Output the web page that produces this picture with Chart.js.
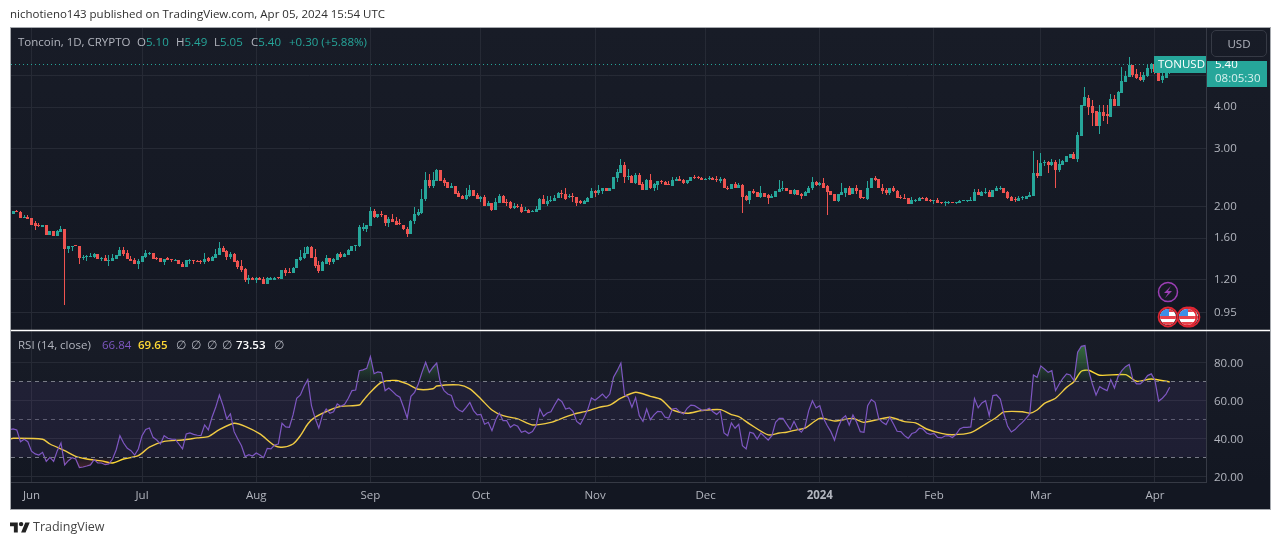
<!DOCTYPE html>
<html>
<head>
<meta charset="utf-8">
<title>TONUSD</title>
<script src="https://cdn.jsdelivr.net/npm/chart.js@4"></script>
<style>
    html, body { margin: 0; padding: 0; background: #fff; overflow: hidden; }
    body { width: 1281px; height: 545px; position: relative; font-family: "Open Sans", sans-serif; }
    canvas { position: absolute; left: 0; top: 0; }
    .txt { position: absolute; white-space: pre; font-size: 11.5px; line-height: 14px; color: #b2b5be; }
    .up { color: #26a69a; }
    #head { left: 10px; top: 7px; color: #2e2e2e; font-size: 11.5px; }
    #usd { left: 1211px; top: 30px; width: 54px; height: 25px; line-height: 25px; text-align: center;
           border: 1px solid #363a45; border-radius: 5px; }
    #logo { position: absolute; left: 10px; top: 520px; }
    #brand { left: 33px; top: 520px; color: #444; font-size: 12.5px; }
</style>
</head>
<body>
<canvas id="tonChart" width="1281" height="545"></canvas>
<div class="txt" id="head">nichotieno143 published on TradingView.com, Apr 05, 2024 15:54 UTC</div>
<div class="txt" style="left:18px;top:35px">Toncoin, 1D, CRYPTO</div>
<div class="txt" style="left:137px;top:35px">O<span class="up">5.10</span></div>
<div class="txt" style="left:176px;top:35px">H<span class="up">5.49</span></div>
<div class="txt" style="left:214px;top:35px">L<span class="up">5.05</span></div>
<div class="txt" style="left:251px;top:35px">C<span class="up">5.40</span></div>
<div class="txt up" style="left:289px;top:35px">+0.30 (+5.88%)</div>
<div class="txt" style="left:18px;top:338px">RSI (14, close)</div>
<div class="txt" style="left:102px;top:338px;color:#7e57c2">66.84</div>
<div class="txt" style="left:138px;top:338px;color:#fdd835;font-weight:600">69.65</div>
<div class="txt" style="left:176px;top:338px">∅</div>
<div class="txt" style="left:191px;top:338px">∅</div>
<div class="txt" style="left:207px;top:338px">∅</div>
<div class="txt" style="left:222px;top:338px">∅</div>
<div class="txt" style="left:236px;top:338px;color:#fff;font-weight:600">73.53</div>
<div class="txt" style="left:274px;top:338px">∅</div>
<div class="txt" id="usd">USD</div>
<svg id="logo" width="20" height="16" viewBox="0 0 36 28"><path fill="#222" d="M14 22H7V11H0V4h14v18zM28 22h-8l7.5-18h8L28 22z"/><circle fill="#222" cx="20" cy="7" r="4"/></svg>
<div class="txt" id="brand">TradingView</div>

<script>
// candles, one per day, first one is 27 May 2023
const opens = [
    1.90,1.93,1.92,1.84,1.86,1.84,1.78,1.755,1.735,1.75,
    1.64,1.68,1.62,1.67,1.71,1.48,1.50,1.52,1.51,1.39,
    1.40,1.40,1.40,1.43,1.38,1.39,1.36,1.36,1.38,1.41,
    1.47,1.44,1.38,1.37,1.34,1.35,1.40,1.43,1.44,1.39,
    1.39,1.35,1.39,1.375,1.36,1.37,1.34,1.31,1.36,1.37,
    1.36,1.36,1.35,1.39,1.36,1.39,1.42,1.49,1.46,1.40,
    1.43,1.36,1.32,1.29,1.19,1.21,1.19,1.21,1.20,1.165,
    1.19,1.19,1.215,1.20,1.28,1.26,1.25,1.30,1.37,1.39,
    1.43,1.50,1.40,1.33,1.27,1.34,1.39,1.35,1.37,1.43,
    1.40,1.42,1.46,1.51,1.51,1.71,1.71,1.74,1.94,1.85,
    1.89,1.88,1.78,1.83,1.80,1.78,1.76,1.71,1.645,1.80,
    1.88,1.905,2.10,2.40,2.30,2.38,2.57,2.40,2.37,2.28,
    2.30,2.19,2.15,2.10,2.15,2.24,2.16,2.10,2.13,2.00,
    2.04,1.945,2.04,2.15,2.06,2.06,1.97,2.00,1.99,1.93,
    1.945,1.92,1.92,1.945,2.10,2.03,2.07,2.07,2.12,2.19,
    2.18,2.13,2.15,2.13,2.07,2.03,2.06,2.12,2.22,2.19,
    2.22,2.27,2.22,2.25,2.43,2.52,2.67,2.45,2.47,2.35,
    2.49,2.33,2.24,2.40,2.27,2.32,2.38,2.37,2.33,2.30,
    2.39,2.42,2.40,2.35,2.38,2.45,2.45,2.43,2.40,2.42,
    2.43,2.42,2.38,2.42,2.28,2.25,2.33,2.28,2.32,2.15,
    2.09,2.22,2.21,2.13,2.19,2.16,2.12,2.13,2.21,2.25,
    2.27,2.24,2.18,2.24,2.18,2.15,2.19,2.27,2.37,2.32,
    2.35,2.30,2.22,2.18,2.07,2.16,2.19,2.28,2.18,2.27,
    2.24,2.13,2.10,2.27,2.43,2.42,2.28,2.24,2.19,2.27,
    2.22,2.13,2.12,2.12,2.03,2.07,2.07,2.12,2.12,2.09,
    2.08,2.09,2.06,2.05,2.05,2.06,2.04,2.04,2.07,2.07,
    2.07,2.07,2.21,2.15,2.19,2.21,2.13,2.22,2.25,2.27,
    2.21,2.13,2.10,2.07,2.12,2.10,2.13,2.15,2.52,2.47,
    2.70,2.72,2.67,2.72,2.57,2.67,2.72,2.80,2.88,2.79,
    3.27,4.03,4.28,4.03,3.89,3.50,3.86,3.81,3.73,4.23,
    4.03,4.42,4.77,4.94,5.37,5.05,4.94,4.84,4.98,5.22,
    5.40,5.19,4.84,4.91,5.10
]
const highs = [
    1.94,1.95,1.93,1.88,1.88,1.84,1.80,1.78,1.76,1.76,
    1.68,1.68,1.69,1.74,1.71,1.52,1.52,1.53,1.51,1.42,
    1.42,1.44,1.44,1.43,1.40,1.42,1.42,1.43,1.42,1.50,
    1.50,1.47,1.41,1.39,1.38,1.41,1.47,1.45,1.44,1.40,
    1.395,1.385,1.40,1.375,1.385,1.375,1.35,1.37,1.38,1.37,
    1.37,1.375,1.44,1.40,1.41,1.48,1.56,1.52,1.47,1.45,
    1.44,1.37,1.37,1.30,1.24,1.22,1.22,1.22,1.22,1.22,
    1.22,1.22,1.215,1.28,1.30,1.30,1.31,1.38,1.47,1.50,
    1.51,1.52,1.48,1.36,1.36,1.42,1.39,1.39,1.44,1.45,
    1.44,1.48,1.52,1.52,1.76,1.78,1.76,1.99,1.96,1.90,
    1.94,1.88,1.85,1.89,1.85,1.83,1.76,1.73,1.82,1.99,
    1.96,2.25,2.54,2.50,2.54,2.59,2.57,2.43,2.37,2.35,
    2.30,2.22,2.16,2.28,2.32,2.24,2.19,2.15,2.16,2.07,
    2.04,2.12,2.18,2.16,2.10,2.07,2.04,2.03,2.03,1.99,
    1.96,1.945,2.01,2.12,2.16,2.15,2.15,2.16,2.21,2.24,
    2.27,2.18,2.19,2.13,2.09,2.09,2.13,2.27,2.24,2.32,
    2.27,2.27,2.28,2.45,2.59,2.78,2.72,2.59,2.49,2.52,
    2.52,2.37,2.42,2.50,2.35,2.38,2.40,2.38,2.38,2.45,
    2.45,2.47,2.42,2.40,2.45,2.49,2.47,2.45,2.43,2.47,
    2.45,2.47,2.45,2.43,2.30,2.33,2.37,2.35,2.33,2.16,
    2.22,2.25,2.21,2.30,2.19,2.18,2.18,2.22,2.40,2.38,
    2.27,2.24,2.25,2.24,2.19,2.22,2.30,2.45,2.38,2.37,
    2.43,2.32,2.22,2.18,2.18,2.35,2.28,2.30,2.27,2.32,
    2.24,2.13,2.38,2.43,2.47,2.42,2.33,2.27,2.27,2.30,
    2.24,2.16,2.18,2.12,2.13,2.10,2.13,2.13,2.13,2.10,
    2.09,2.12,2.06,2.07,2.07,2.06,2.06,2.09,2.09,2.09,
    2.13,2.25,2.25,2.22,2.27,2.24,2.24,2.30,2.30,2.28,
    2.22,2.15,2.13,2.15,2.15,2.15,2.21,2.94,2.76,2.90,
    2.76,2.74,2.78,2.76,2.78,2.76,2.84,2.89,2.92,3.36,
    4.06,4.61,4.36,4.20,3.90,4.06,4.06,4.06,4.39,4.36,
    4.48,5.30,5.15,5.68,5.37,5.22,5.12,5.12,5.37,5.45,
    5.49,5.28,5.19,5.25,5.49
]
const lows = [
    1.89,1.92,1.84,1.84,1.83,1.76,1.70,1.73,1.73,1.64,
    1.64,1.62,1.62,1.67,1.00,1.44,1.46,1.51,1.34,1.37,
    1.36,1.40,1.395,1.38,1.36,1.36,1.32,1.36,1.38,1.41,
    1.41,1.38,1.36,1.34,1.29,1.35,1.39,1.42,1.38,1.37,
    1.35,1.33,1.37,1.35,1.36,1.335,1.31,1.31,1.34,1.34,
    1.35,1.34,1.335,1.35,1.36,1.39,1.42,1.45,1.37,1.38,
    1.35,1.29,1.26,1.18,1.16,1.19,1.17,1.19,1.165,1.165,
    1.19,1.19,1.20,1.20,1.23,1.25,1.25,1.30,1.36,1.38,
    1.43,1.39,1.30,1.25,1.27,1.34,1.33,1.34,1.37,1.39,
    1.40,1.42,1.46,1.46,1.50,1.68,1.67,1.74,1.84,1.84,
    1.86,1.74,1.73,1.79,1.76,1.76,1.70,1.61,1.645,1.77,
    1.87,1.90,2.08,2.27,2.27,2.38,2.38,2.30,2.27,2.27,
    2.18,2.13,2.10,2.09,2.13,2.15,2.10,2.06,2.01,2.00,
    1.93,1.945,2.04,2.04,2.01,1.96,1.96,1.97,1.905,1.93,
    1.905,1.92,1.92,1.945,2.03,2.00,2.06,2.07,2.12,2.12,
    2.09,2.12,2.06,2.01,2.03,2.03,2.06,2.12,2.13,2.16,
    2.18,2.22,2.22,2.25,2.37,2.52,2.35,2.40,2.35,2.33,
    2.32,2.24,2.24,2.25,2.22,2.24,2.33,2.32,2.32,2.30,
    2.38,2.38,2.33,2.33,2.38,2.42,2.42,2.40,2.40,2.40,
    2.40,2.37,2.35,2.27,2.24,2.25,2.28,2.28,1.905,2.07,
    2.03,2.18,2.13,2.12,2.13,2.03,2.12,2.13,2.21,2.22,
    2.22,2.18,2.16,2.16,2.10,2.15,2.19,2.24,2.30,2.30,
    2.28,1.88,2.16,2.07,2.06,2.16,2.13,2.16,2.18,2.18,
    2.10,2.10,2.09,2.27,2.38,2.27,2.18,2.16,2.16,2.21,
    2.12,2.10,2.10,2.03,2.03,2.06,2.07,2.10,2.07,2.06,
    2.03,2.04,2.03,2.01,2.03,2.05,2.03,2.04,2.07,2.06,
    2.07,2.07,2.16,2.15,2.18,2.13,2.13,2.22,2.24,2.19,
    2.10,2.07,2.06,2.07,2.09,2.10,2.13,2.15,2.43,2.47,
    2.65,2.52,2.65,2.28,2.54,2.67,2.72,2.80,2.79,2.72,
    3.27,4.03,3.79,3.50,3.50,3.31,3.62,3.55,3.73,4.03,
    4.03,4.42,4.77,4.94,4.94,4.87,4.80,4.77,4.94,5.08,
    5.06,4.81,4.75,4.91,5.05
]
const closes = [
    1.93,1.92,1.84,1.86,1.83,1.76,1.745,1.745,1.755,1.64,
    1.68,1.62,1.68,1.71,1.48,1.51,1.52,1.51,1.39,1.40,
    1.41,1.41,1.43,1.385,1.39,1.36,1.37,1.39,1.42,1.47,
    1.43,1.38,1.36,1.34,1.36,1.41,1.44,1.44,1.38,1.38,
    1.35,1.385,1.375,1.37,1.37,1.34,1.31,1.37,1.37,1.365,
    1.355,1.355,1.385,1.36,1.40,1.43,1.49,1.45,1.40,1.43,
    1.35,1.31,1.28,1.19,1.21,1.19,1.21,1.19,1.165,1.21,
    1.21,1.215,1.21,1.28,1.25,1.25,1.30,1.38,1.40,1.44,
    1.50,1.39,1.32,1.27,1.35,1.39,1.35,1.38,1.43,1.40,
    1.43,1.47,1.51,1.515,1.73,1.73,1.75,1.94,1.85,1.89,
    1.88,1.78,1.83,1.79,1.76,1.765,1.71,1.645,1.81,1.89,
    1.92,2.10,2.40,2.30,2.40,2.57,2.38,2.35,2.27,2.30,
    2.18,2.13,2.10,2.16,2.24,2.15,2.10,2.13,2.01,2.04,
    1.945,2.06,2.15,2.04,2.04,1.97,2.00,1.99,1.92,1.945,
    1.905,1.93,1.96,2.10,2.03,2.07,2.09,2.12,2.19,2.18,
    2.10,2.15,2.13,2.04,2.04,2.07,2.12,2.22,2.19,2.24,
    2.27,2.22,2.27,2.45,2.54,2.67,2.45,2.47,2.35,2.49,
    2.32,2.24,2.40,2.27,2.33,2.38,2.37,2.32,2.325,2.40,
    2.42,2.38,2.35,2.40,2.45,2.43,2.43,2.40,2.42,2.43,
    2.40,2.40,2.42,2.27,2.25,2.33,2.28,2.32,2.13,2.09,
    2.22,2.19,2.13,2.19,2.13,2.12,2.15,2.22,2.25,2.27,
    2.22,2.18,2.24,2.16,2.15,2.21,2.28,2.37,2.32,2.35,
    2.28,2.21,2.16,2.07,2.18,2.21,2.28,2.16,2.27,2.22,
    2.12,2.12,2.28,2.43,2.40,2.27,2.22,2.19,2.27,2.22,
    2.12,2.12,2.11,2.03,2.09,2.09,2.12,2.10,2.07,2.07,
    2.09,2.04,2.04,2.06,2.06,2.05,2.06,2.07,2.09,2.09,
    2.09,2.21,2.16,2.21,2.21,2.13,2.24,2.27,2.27,2.19,
    2.12,2.07,2.09,2.12,2.13,2.15,2.16,2.52,2.47,2.70,
    2.72,2.67,2.72,2.57,2.68,2.74,2.84,2.89,2.79,3.29,
    4.06,4.30,4.00,3.84,3.50,3.86,3.76,3.76,4.23,4.03,
    4.45,4.80,4.98,5.37,5.01,4.91,4.84,5.01,5.26,5.41,
    5.13,4.81,4.96,5.10,5.40
]

const rsiValues = [
    44.9,44.4,38.2,39.5,38.2,33.2,31.8,31.2,32.6,27.9,
    30.0,27.9,33.5,37.5,26.0,28.2,29.8,29.1,24.6,24.9,
    25.4,26.0,28.8,27.0,27.0,26.1,26.5,29.1,34.0,41.4,
    37.5,34.7,33.5,31.2,34.4,41.4,44.6,45.4,40.5,39.1,
    37.0,41.4,40.0,39.6,39.5,37.0,34.4,42.3,42.8,42.1,
    41.6,41.4,47.0,44.4,51.1,56.3,62.8,57.2,50.2,52.8,
    43.5,39.6,36.1,30.4,31.4,30.7,32.3,31.2,29.8,34.7,
    34.4,36.5,37.0,47.9,46.0,45.8,52.3,61.1,62.8,67.4,
    70.9,57.2,50.5,45.4,52.3,55.4,53.2,54.0,58.1,56.8,
    57.9,61.1,65.1,65.4,75.6,76.0,76.8,83.0,74.0,74.9,
    74.6,65.1,66.5,64.7,62.8,61.6,56.3,50.7,62.1,64.2,
    68.6,74.7,80.0,74.7,77.4,79.6,69.1,65.1,63.3,62.5,
    56.8,54.9,54.0,56.3,58.9,54.6,52.3,52.6,47.4,48.4,
    44.0,49.6,53.3,49.3,49.3,45.8,47.2,46.3,43.2,43.9,
    42.5,43.5,46.7,55.4,51.6,53.3,54.0,57.5,60.7,59.3,
    55.4,56.0,54.2,48.9,47.4,50.9,55.1,61.2,60.0,61.6,
    63.3,61.1,63.3,72.1,75.6,79.6,62.8,61.6,56.3,61.4,
    51.9,48.9,55.4,49.8,52.3,54.2,54.0,51.1,50.7,55.4,
    55.8,53.9,52.8,55.8,57.5,57.2,56.0,54.7,54.9,55.8,
    54.0,52.6,54.4,42.8,41.4,48.1,45.3,47.4,36.1,34.4,
    43.2,42.6,39.6,42.8,40.9,39.1,41.4,48.4,50.5,50.5,
    47.5,44.6,48.9,44.9,43.2,46.1,54.6,59.8,56.0,57.2,
    50.5,46.7,43.5,39.0,45.8,50.2,51.9,47.0,52.3,48.4,
    43.5,43.2,57.2,60.4,58.9,50.5,48.4,47.2,51.1,47.5,
    43.7,43.5,41.4,40.0,42.5,43.2,45.3,44.9,42.8,42.1,
    42.6,40.5,40.2,41.2,41.4,40.4,42.1,44.9,45.8,45.8,
    46.0,60.9,56.0,58.6,59.8,51.9,62.5,62.8,60.7,52.8,
    46.3,43.3,44.6,46.7,48.4,50.5,52.8,73.3,72.1,78.1,
    76.5,74.7,75.6,65.1,68.6,71.6,73.9,73.3,70.4,85.3,
    88.4,88.8,75.6,68.6,62.8,67.2,66.0,65.1,70.9,66.5,
    72.6,75.6,77.7,78.9,70.9,68.6,68.6,70.4,73.0,73.9,
    70.4,59.6,61.1,63.3,66.84
]
// RSI and its average run on past the first candle, off the left edge
const rsiBeforeStart = 44.5
const rsiMaBeforeStart = 39.6

// yellow RSI average, read at the days it bends
const rsiMaDays = [0,8,10,14,17,20,24,27,30,34,37,41,46,50,53,56,60,63,67,71,73,76,78,80,82,86,89,94,95,97,100,104,107,110,114,115,121,124,127,130,133,137,141,146,149,152,156,159,162,165,169,173,176,179,183,187,192,195,197,200,205,208,210,213,215,219,223,228,231,238,242,245,248,252,255,260,264,267,269,274,276,278,280,283,286,288,290,292,295,302,305,309,314]
const rsiMaValues = [40.0,39.5,37.0,33.5,30.5,29.1,28.1,27.0,29.1,30.9,35.3,38.4,39.1,40.2,40.9,44.6,47.9,46.3,42.3,36.1,35.3,37.0,41.4,47.5,51.1,54.9,56.8,57.5,59.8,64.2,69.5,70.4,68.6,65.8,66.1,67.5,68.1,66.0,60.7,54.9,51.9,50.2,47.0,48.4,50.5,52.6,54.4,56.3,57.5,61.1,64.2,62.1,60.4,54.9,53.2,54.6,55.1,52.5,51.4,47.5,41.8,42.8,43.2,44.6,45.3,50.5,49.1,50.5,48.4,51.1,48.8,48.1,44.9,42.6,41.9,43.0,47.5,51.1,53.9,54.0,53.2,54.9,58.4,61.1,66.8,69.8,75.3,75.8,73.2,73.5,70.0,71.2,69.65]

const priceTicks = [0.95, 1.2, 1.6, 2, 3, 4, 5]
const rsiTicks = [20, 40, 60, 80]
const rsiLevels = [70, 50, 30]
const monthDays = [5, 35, 66, 97, 127, 158, 188, 219, 250, 279, 310]
const monthLabels = ['Jun', 'Jul', 'Aug', 'Sep', 'Oct', 'Nov', 'Dec', '2024', 'Feb', 'Mar', 'Apr']
const lastPrice = 5.40

const firstDay = -0.57
const lastDay = 323.85
const fontName = '"Open Sans", sans-serif'
const upColor = '#26a69a'
const downColor = '#ef5350'
const gridColor = '#262a35'
const axisColor = '#363a45'
const textColor = '#b2b5be'

const days = opens.map((o, i) => i)
const candleColors = closes.map((c, i) => c >= opens[i] ? upColor : downColor)
const rsiPoints = [{ x: -1, y: rsiBeforeStart }].concat(days.map(i => ({ x: i, y: rsiValues[i] })))
const rsiMaPoints = [{ x: -1, y: rsiMaBeforeStart }].concat(rsiMaDays.map((d, i) => ({ x: d, y: rsiMaValues[i] })))

const ctxMain = document.getElementById('tonChart').getContext('2d')

const overboughtFill = ctxMain.createLinearGradient(0, 345, 0, 382)
overboughtFill.addColorStop(0, 'rgba(76,175,80,0.55)')
overboughtFill.addColorStop(1, 'rgba(76,175,80,0.03)')
const oversoldFill = ctxMain.createLinearGradient(0, 458, 0, 480)
oversoldFill.addColorStop(0, 'rgba(255,82,82,0.03)')
oversoldFill.addColorStop(1, 'rgba(255,82,82,0.4)')

// dark pane backgrounds and the outer frame
const panePlugin = {
    id: 'panes',
    beforeDraw(chart) {
        const c = chart.ctx
        const left = chart.chartArea.left
        const right = chart.scales.price.right
        const paint = (top, bottom) => {
            const g = c.createLinearGradient(0, top, 0, bottom)
            g.addColorStop(0, '#181c27')
            g.addColorStop(1, '#131722')
            c.fillStyle = g
            c.fillRect(left, top, right - left, bottom - top)
        }
        paint(chart.scales.price.top, chart.scales.price.bottom)
        paint(chart.scales.rsi.top, chart.scales.rsi.bottom)
        c.fillStyle = '#131722'
        c.fillRect(left, chart.chartArea.bottom, right - left, chart.scales.x.height)
    },
    afterDraw(chart) {
        const c = chart.ctx
        const left = chart.chartArea.left
        const right = chart.scales.price.right
        c.save()
        c.strokeStyle = '#ffffff'
        c.lineWidth = 1.5
        c.beginPath()
        c.moveTo(left, chart.scales.rsi.top + 0.5)
        c.lineTo(right, chart.scales.rsi.top + 0.5)
        c.stroke()
        c.strokeStyle = '#a6a9ae'
        c.lineWidth = 1
        c.strokeRect(left - 0.5, chart.chartArea.top - 0.5, right - left + 1, chart.chartArea.bottom + chart.scales.x.height - chart.chartArea.top + 1)
        c.restore()
    }
}

// keep candles and level lines on whole pixels like the original
const snapPlugin = {
    id: 'snap',
    afterDatasetsUpdate(chart) {
        chart.data.datasets.forEach((ds, n) => {
            const meta = chart.getDatasetMeta(n)
            if (ds.flat) {
                meta.data.forEach(pt => { pt.y = Math.floor(pt.y) + 0.5 })
            }
            if (ds.type !== 'bar') return
            meta.data.forEach(el => {
                el.x = Math.floor(el.x) + 0.5
                el.y = Math.round(el.y)
                el.base = Math.round(el.base)
                if (el.base === el.y) el.base = el.y + 1
            })
        })
    }
}

const drawFlag = (c, x, y) => {
    c.save()
    c.beginPath()
    c.arc(x, y, 8, 0, Math.PI * 2)
    c.fillStyle = '#ffffff'
    c.fill()
    c.clip()
    c.fillStyle = '#e8424c'
    c.fillRect(x - 8, y - 1, 16, 3)
    c.fillRect(x - 8, y + 5, 16, 3)
    c.fillRect(x, y - 8, 8, 3)
    c.fillStyle = '#3d8fe8'
    c.fillRect(x - 8, y - 8, 9, 7)
    c.restore()
    c.beginPath()
    c.arc(x, y, 9.5, 0, Math.PI * 2)
    c.strokeStyle = '#e02633'
    c.lineWidth = 1.8
    c.stroke()
}

// price tags and event marks on top of the chart
const tagPlugin = {
    id: 'tags',
    afterDraw(chart) {
        const c = chart.ctx
        c.save()

        c.fillStyle = upColor
        c.fillRect(1154, 56, 52, 17)
        c.fillStyle = '#ffffff'
        c.font = '11.5px ' + fontName
        c.textAlign = 'left'
        c.textBaseline = 'middle'
        c.fillText('TONUSD', 1158, 65)

        c.fillStyle = upColor
        c.fillRect(1207, 61, 60, 26)
        c.save()
        c.beginPath()
        c.rect(1207, 61, 60, 26)
        c.clip()
        c.fillStyle = '#ffffff'
        c.fillText('5.40', 1215, 65)
        c.restore()
        c.fillStyle = '#d8f0ee'
        c.fillText('08:05:30', 1215, 79)

        // lightning mark
        c.beginPath()
        c.arc(1168, 292, 9.5, 0, Math.PI * 2)
        c.fillStyle = '#161a25'
        c.fill()
        c.strokeStyle = '#9c3fb5'
        c.lineWidth = 1.5
        c.stroke()
        c.fillStyle = '#9c3fb5'
        c.beginPath()
        c.moveTo(1171, 286)
        c.lineTo(1164, 293)
        c.lineTo(1168, 293)
        c.lineTo(1165, 298)
        c.lineTo(1172, 291)
        c.lineTo(1168, 291)
        c.closePath()
        c.fill()

        drawFlag(c, 1168, 317)
        drawFlag(c, 1190, 317)
        drawFlag(c, 1187, 317)
        c.restore()
    }
}

const flatLine = (value, axis, color, dash, extra) => Object.assign({
    type: 'line',
    flat: true,
    yAxisID: axis,
    data: [{ x: firstDay, y: value }, { x: lastDay, y: value }],
    borderColor: color,
    borderWidth: 1,
    borderDash: dash,
    pointRadius: 0,
    fill: false,
}, extra)

const datasets = [
    // RSI band and levels
    flatLine(rsiLevels[0], 'rsi', '#787b86', [4, 4], {
        fill: { target: { value: rsiLevels[2] }, above: 'rgba(126,87,194,0.1)', below: 'transparent' }
    }),
    flatLine(rsiLevels[1], 'rsi', 'rgba(120,123,134,0.7)', [4, 4]),
    flatLine(rsiLevels[2], 'rsi', '#787b86', [4, 4]),
    flatLine(lastPrice, 'price', upColor, [1, 3]),
    {
        type: 'bar',
        yAxisID: 'price',
        data: days.map(i => ({ x: i, y: [lows[i], highs[i]] })),
        backgroundColor: candleColors,
        barThickness: 1,
        grouped: false,
        borderWidth: 0,
        inflateAmount: 0,
        minBarLength: 1,
    },
    {
        type: 'bar',
        yAxisID: 'price',
        data: days.map(i => ({ x: i, y: [opens[i], closes[i]] })),
        backgroundColor: candleColors,
        barThickness: 3,
        grouped: false,
        borderWidth: 0,
        inflateAmount: 0,
        minBarLength: 1,
    },
    {
        type: 'line',
        yAxisID: 'rsi',
        data: rsiPoints,
        borderColor: 'transparent',
        pointRadius: 0,
        fill: { target: { value: rsiLevels[2] }, above: 'transparent', below: oversoldFill },
    },
    {
        type: 'line',
        yAxisID: 'rsi',
        data: rsiPoints,
        borderColor: '#7e57c2',
        borderWidth: 1.2,
        pointRadius: 0,
        tension: 0,
        fill: { target: { value: rsiLevels[0] }, above: overboughtFill, below: 'transparent' },
    },
    {
        type: 'line',
        yAxisID: 'rsi',
        data: rsiMaPoints,
        borderColor: '#fdd835',
        borderWidth: 1.4,
        pointRadius: 0,
        tension: 0.25,
        fill: false,
    },
]

const sideAxis = (ticks, stackWeight, shift, extra) => Object.assign({
    position: 'right',
    stack: 'panes',
    stackWeight: stackWeight,
    afterBuildTicks: (scale) => { scale.ticks = ticks.map(v => ({ value: v })) },
    afterFit: (scale) => { scale.width = 64 },
    grid: { color: gridColor, drawTicks: false },
    border: { display: true, color: axisColor },
    ticks: {
        color: textColor,
        padding: 8,
        labelOffset: shift,
        autoSkip: false,
        font: { family: fontName, size: 11.5 },
        callback: (v) => Number(v).toFixed(2),
    },
}, extra)

new Chart(ctxMain, {
    data: { datasets: datasets },
    options: {
        responsive: false,
        animation: false,
        layout: { padding: { left: 11, top: 28, right: 11, bottom: 36 } },
        plugins: { legend: { display: false }, tooltip: { enabled: false } },
        scales: {
            x: {
                type: 'linear',
                offset: false,
                min: firstDay,
                max: lastDay,
                afterBuildTicks: (scale) => { scale.ticks = monthDays.map(v => ({ value: v })) },
                afterFit: (scale) => { scale.height = 27 },
                grid: { color: gridColor, drawTicks: false, offset: false },
                border: { display: true, color: axisColor },
                ticks: {
                    color: textColor,
                    padding: 7,
                    autoSkip: false,
                    maxRotation: 0,
                    font: (ctx) => ({
                        family: fontName,
                        size: 11.5,
                        weight: ctx.tick && monthLabels[monthDays.indexOf(ctx.tick.value)] === '2024' ? 'bold' : 'normal',
                    }),
                    callback: (v) => monthLabels[monthDays.indexOf(v)],
                },
            },
            price: sideAxis(priceTicks, 302, 0, { type: 'logarithmic', min: 0.8417, max: 6.96 }),
            rsi: sideAxis(rsiTicks, 152, 1, { type: 'linear', min: 17, max: 97 }),
        },
    },
    plugins: [panePlugin, snapPlugin, tagPlugin],
})
</script>
</body>
</html>
